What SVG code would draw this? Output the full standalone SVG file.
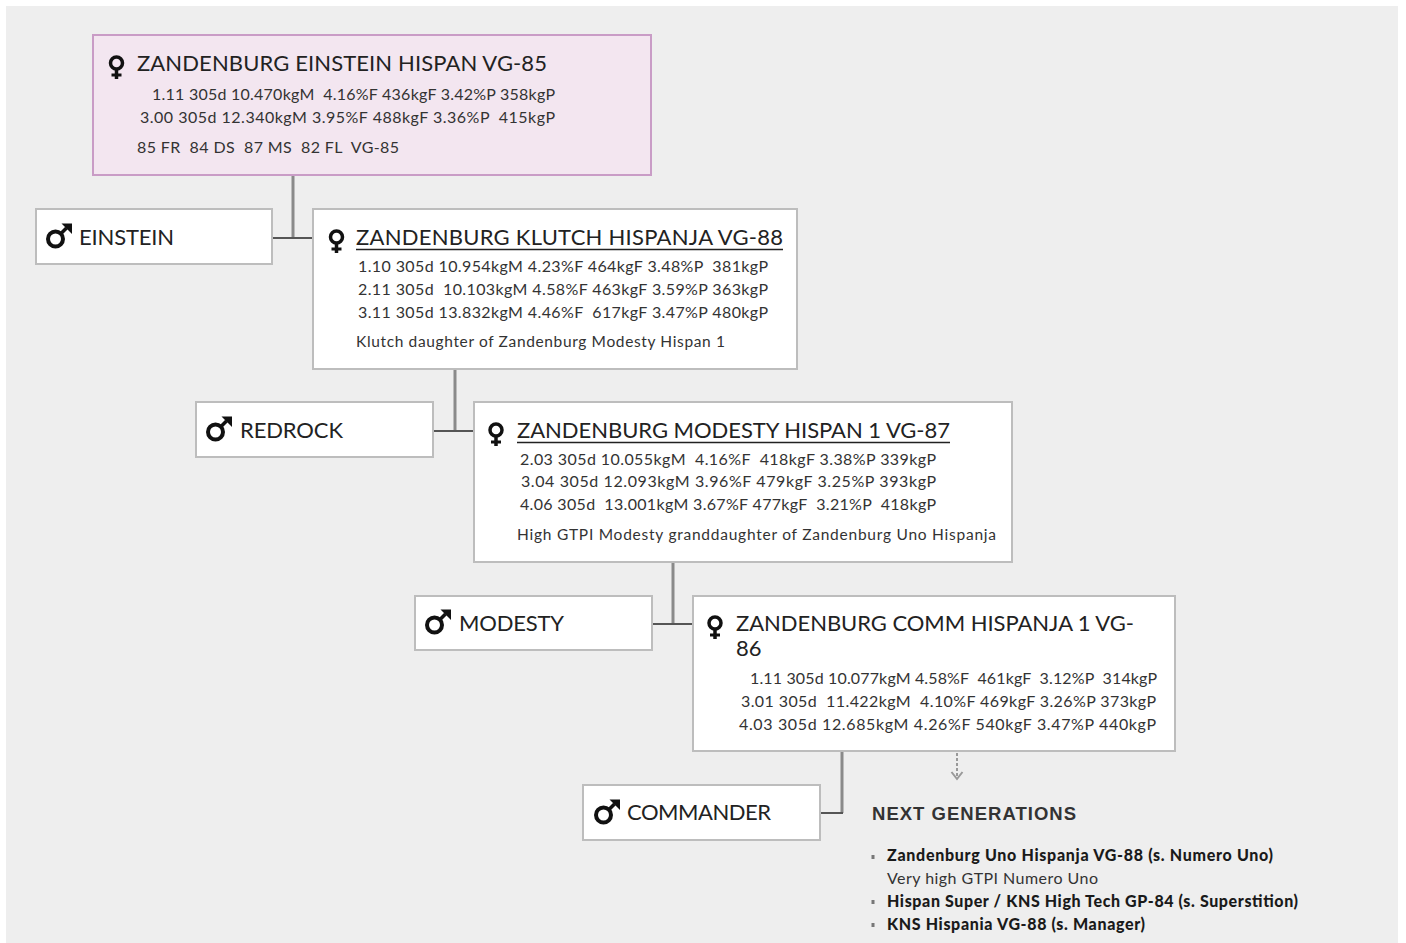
<svg xmlns="http://www.w3.org/2000/svg" width="1406" height="943" viewBox="0 0 1406 943">
<style>
.bg{fill:#eeeeee}
.box{fill:#ffffff;stroke:#bdbdbd;stroke-width:2}
.top{fill:#f3e6f0;stroke:#c99cc6;stroke-width:2}
.t{font-family:Lato,"Liberation Sans",sans-serif;fill:#222}
.title{font-size:22px}
.data{font-size:16px;fill:#333}
.note{font-size:15.5px;fill:#333}
.ul{stroke:#222;stroke-width:1.5}
.vc{stroke:#8a8a8a;stroke-width:3;fill:none}
.hc{stroke:#555;stroke-width:2;fill:none}
.ng{font-family:"Liberation Sans",Arial,sans-serif;font-weight:bold;font-size:18.5px;fill:#333}
.li{font-family:Lato,"Liberation Sans",sans-serif;font-weight:900;font-size:16px;fill:#1a1a1a}
.lin{font-family:Lato,"Liberation Sans",sans-serif;font-size:16px;fill:#333}
.ic{stroke:#111;fill:none}
</style>
<defs>
<g id="fem">
<circle cx="0" cy="0" r="6" class="ic" stroke-width="3.5"/>
<line x1="0" y1="7" x2="0" y2="16" class="ic" stroke-width="3.5"/>
<line x1="-5" y1="12" x2="5" y2="12" class="ic" stroke-width="3"/>
</g>
<g id="mal">
<circle cx="0" cy="0" r="7.5" class="ic" stroke-width="4"/>
<line x1="5" y1="-5" x2="11" y2="-11" class="ic" stroke-width="3.5"/>
<polygon points="6,-15.5 16.5,-15.5 16.5,-5" fill="#111"/>
</g>
</defs>
<rect class="bg" x="6" y="6" width="1392" height="937"/>

<g id="connectors">
<line class="vc" x1="293" y1="175" x2="293" y2="238"/>
<line class="hc" x1="272" y1="238" x2="313" y2="238"/>
<line class="vc" x1="455" y1="369" x2="455" y2="431"/>
<line class="hc" x1="433" y1="431" x2="474" y2="431"/>
<line class="vc" x1="673" y1="562" x2="673" y2="624"/>
<line class="hc" x1="652" y1="624" x2="693" y2="624"/>
<line class="vc" x1="842" y1="751" x2="842" y2="813"/>
<line class="hc" x1="820" y1="813" x2="843" y2="813"/>
<line x1="957" y1="753" x2="957" y2="778" stroke="#999" stroke-width="2" stroke-dasharray="3,2"/>
<polyline points="951.5,772 957,779 962.5,772" fill="none" stroke="#999" stroke-width="2"/>
</g>

<g id="node-einstein-hispan">
<rect class="top" x="93" y="35" width="558" height="140"/>
<use href="#fem" x="116.5" y="63"/>
<text class="t title" x="137" y="71" textLength="410">ZANDENBURG EINSTEIN HISPAN VG-85</text>
<text class="t data" x="152" y="100" textLength="403" xml:space="preserve">1.11 305d 10.470kgM  4.16%F 436kgF 3.42%P 358kgP</text>
<text class="t data" x="140" y="123" textLength="415" xml:space="preserve">3.00 305d 12.340kgM 3.95%F 488kgF 3.36%P  415kgP</text>
<text class="t data" x="137" y="153" textLength="262" xml:space="preserve">85 FR  84 DS  87 MS  82 FL  VG-85</text>
</g>

<g id="node-einstein">
<rect class="box" x="36" y="209" width="236" height="55"/>
<use href="#mal" x="55.5" y="239"/>
<text class="t title" x="79" y="245" textLength="95">EINSTEIN</text>
</g>

<g id="node-klutch-hispanja">
<rect class="box" x="313" y="209" width="484" height="160"/>
<use href="#fem" x="336.5" y="237"/>
<text class="t title" x="356" y="245" textLength="427">ZANDENBURG KLUTCH HISPANJA VG-88</text>
<line class="ul" x1="356" y1="249.5" x2="783" y2="249.5"/>
<text class="t data" x="358" y="272" textLength="410" xml:space="preserve">1.10 305d 10.954kgM 4.23%F 464kgF 3.48%P  381kgP</text>
<text class="t data" x="358" y="295" textLength="410" xml:space="preserve">2.11 305d  10.103kgM 4.58%F 463kgF 3.59%P 363kgP</text>
<text class="t data" x="358" y="318" textLength="410" xml:space="preserve">3.11 305d 13.832kgM 4.46%F  617kgF 3.47%P 480kgP</text>
<text class="t note" x="356" y="347" textLength="369">Klutch daughter of Zandenburg Modesty Hispan 1</text>
</g>

<g id="node-redrock">
<rect class="box" x="196" y="402" width="237" height="55"/>
<use href="#mal" x="215.5" y="432"/>
<text class="t title" x="240" y="438" textLength="103">REDROCK</text>
</g>

<g id="node-modesty-hispan">
<rect class="box" x="474" y="402" width="538" height="160"/>
<use href="#fem" x="496" y="430"/>
<text class="t title" x="517" y="438" textLength="433">ZANDENBURG MODESTY HISPAN 1 VG-87</text>
<line class="ul" x1="517" y1="442.5" x2="950" y2="442.5"/>
<text class="t data" x="520" y="465" textLength="416" xml:space="preserve">2.03 305d 10.055kgM  4.16%F  418kgF 3.38%P 339kgP</text>
<text class="t data" x="521" y="487" textLength="415" xml:space="preserve">3.04 305d 12.093kgM 3.96%F 479kgF 3.25%P 393kgP</text>
<text class="t data" x="520" y="510" textLength="416" xml:space="preserve">4.06 305d  13.001kgM 3.67%F 477kgF  3.21%P  418kgP</text>
<text class="t note" x="517" y="540" textLength="479">High GTPI Modesty granddaughter of Zandenburg Uno Hispanja</text>
</g>

<g id="node-modesty">
<rect class="box" x="415" y="596" width="237" height="54"/>
<use href="#mal" x="434.5" y="625"/>
<text class="t title" x="459" y="631" textLength="105">MODESTY</text>
</g>

<g id="node-comm-hispanja">
<rect class="box" x="693" y="596" width="482" height="155"/>
<use href="#fem" x="715" y="623"/>
<text class="t title" x="736" y="631" textLength="398">ZANDENBURG COMM HISPANJA 1 VG-</text>
<text class="t title" x="736" y="656">86</text>
<text class="t data" x="750" y="684" textLength="407" xml:space="preserve">1.11 305d 10.077kgM 4.58%F  461kgF  3.12%P  314kgP</text>
<text class="t data" x="741" y="707" textLength="415" xml:space="preserve">3.01 305d  11.422kgM  4.10%F 469kgF 3.26%P 373kgP</text>
<text class="t data" x="739" y="730" textLength="417" xml:space="preserve">4.03 305d 12.685kgM 4.26%F 540kgF 3.47%P 440kgP</text>
</g>

<g id="node-commander">
<rect class="box" x="583" y="785" width="237" height="55"/>
<use href="#mal" x="603.5" y="815"/>
<text class="t title" x="627" y="820" textLength="144">COMMANDER</text>
</g>

<g id="next-generations">
<text class="ng" x="872" y="820" textLength="204">NEXT GENERATIONS</text>
<rect x="871.5" y="855" width="3" height="4" fill="#777"/>
<text class="li" x="887" y="861" textLength="386">Zandenburg Uno Hispanja VG-88 (s. Numero Uno)</text>
<text class="lin" x="887" y="884" textLength="211">Very high GTPI Numero Uno</text>
<rect x="871.5" y="900" width="3" height="4" fill="#777"/>
<text class="li" x="887" y="907" textLength="411">Hispan Super / KNS High Tech GP-84 (s. Superstition)</text>
<rect x="871.5" y="923" width="3" height="4" fill="#777"/>
<text class="li" x="887" y="930" textLength="258">KNS Hispania VG-88 (s. Manager)</text>
</g>
</svg>
